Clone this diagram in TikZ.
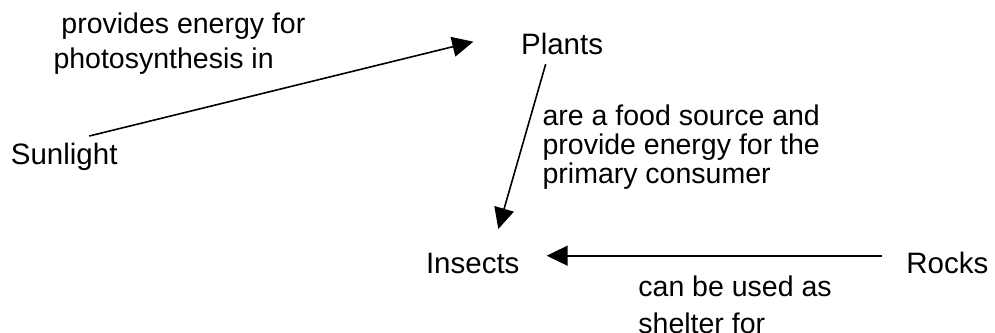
\documentclass[tikz,border=0pt]{standalone}
\usepackage{fontspec}
\setmainfont{Liberation Sans}
\usetikzlibrary{arrows.meta,calc}
\begin{document}
\begin{tikzpicture}[x=0.5pt,y=-0.5pt,
  concept/.style={anchor=base west,inner sep=0pt,font=\fontsize{14.75}{17}\selectfont},
  linklabel/.style={anchor=base west,inner sep=0pt},
  link/.style={line width=0.8pt,-{Triangle[length=10.5pt,width=10pt]}}]
\useasboundingbox (0,0) rectangle (995,332);
\clip (0,0) rectangle (995,332);
\node[concept] (sun) at (10.5,164.3) {Sunlight};
\node[concept] (plants) at (520.7,54.3) {Plants};
\node[concept] (insects) at (425.6,273.3) {Insects};
\node[concept] (rocks) at (906,273.3) {Rocks};
\node[linklabel,font=\fontsize{14.25}{17.5}\selectfont] (l1) at (53.1,33.3)
  {\begin{tabular}[t]{@{}l@{}}\ provides energy for\\photosynthesis in\end{tabular}};
\node[linklabel,font=\fontsize{14.25}{14.6}\selectfont] (l2) at (542.2,125)
  {\begin{tabular}[t]{@{}l@{}}are a food source and\\provide energy for the\\primary consumer\end{tabular}};
\node[linklabel,font=\fontsize{14.25}{18.5}\selectfont] (l3) at (638,296.7)
  {\begin{tabular}[t]{@{}l@{}}can be used as\\shelter for\end{tabular}};
\draw[link] ($(sun.base west)+(78.8,-28.3)$) -- ($(plants.base west)+(-47.4,-12.6)$);
\draw[link] ($(plants.base west)+(25,9.7)$) -- ($(insects.base west)+(72.7,-44.3)$);
\draw[link] ($(rocks.base west)+(-24.3,-17.6)$) -- ($(insects.base west)+(121.1,-17.6)$);
\end{tikzpicture}
\end{document}
